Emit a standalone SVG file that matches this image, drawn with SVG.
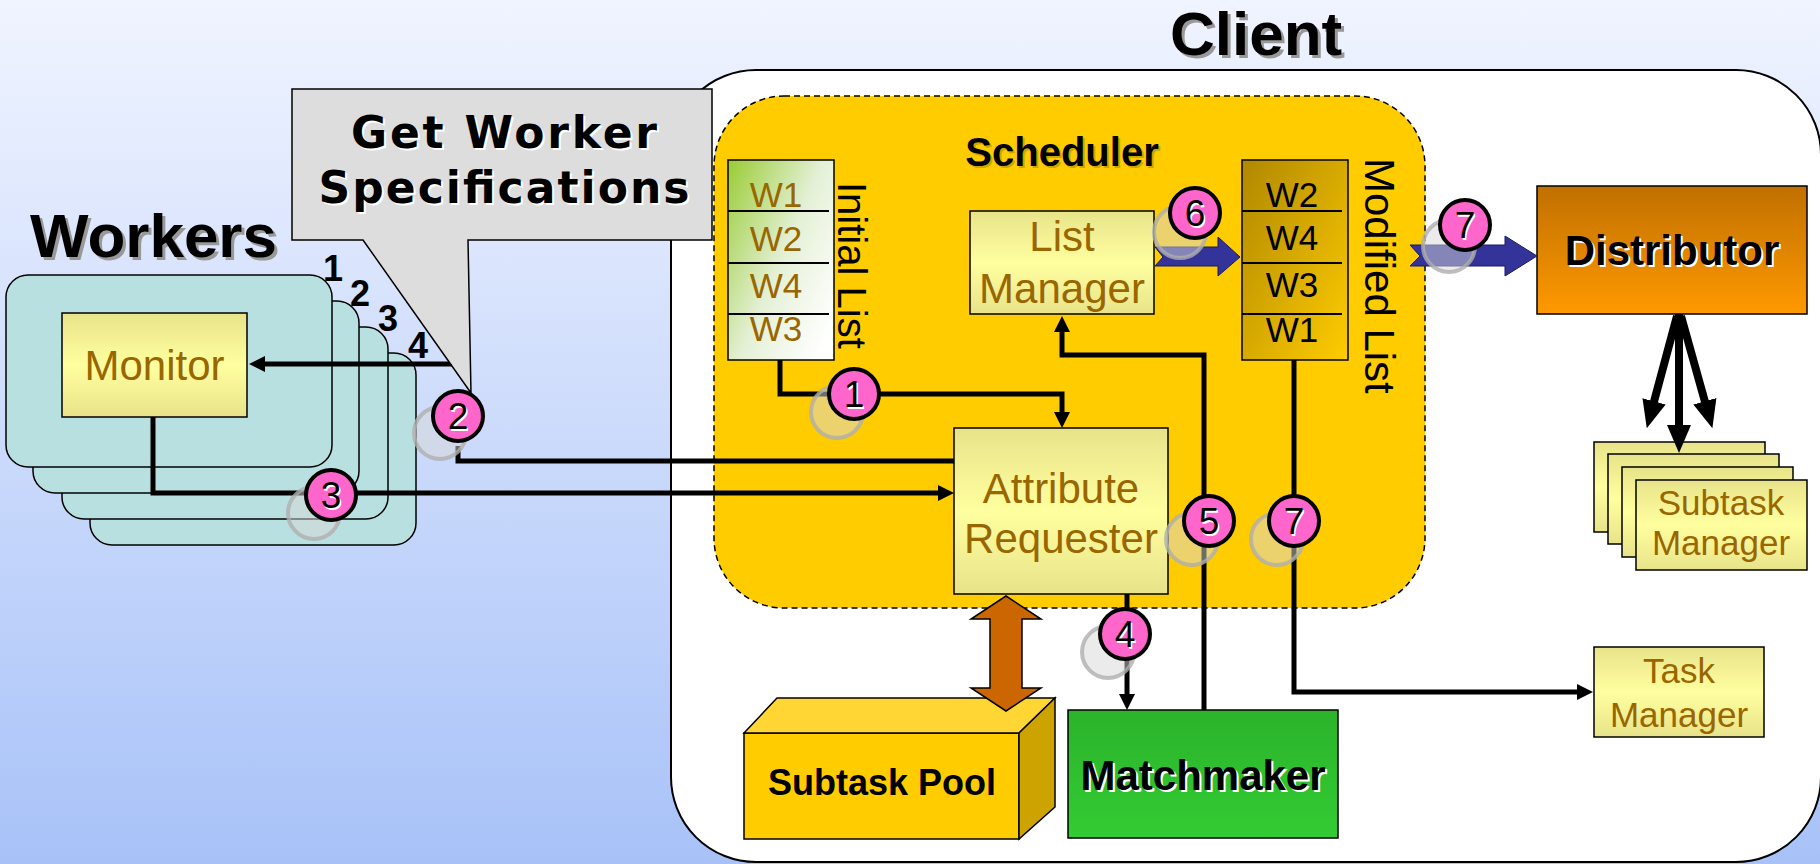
<svg xmlns="http://www.w3.org/2000/svg" width="1820" height="864" viewBox="0 0 1820 864">
<defs>
  <linearGradient id="bg" x1="0" y1="0" x2="0" y2="1">
    <stop offset="0" stop-color="#f0f4ff"/>
    <stop offset="1" stop-color="#a8c2f8"/>
  </linearGradient>
  <linearGradient id="yel" x1="0" y1="0" x2="0" y2="1">
    <stop offset="0" stop-color="#e8e38a"/>
    <stop offset="0.5" stop-color="#ffff9f"/>
    <stop offset="1" stop-color="#e8e38a"/>
  </linearGradient>
  <linearGradient id="ini" x1="0" y1="0" x2="1" y2="0.8">
    <stop offset="0" stop-color="#99cc33"/>
    <stop offset="0.55" stop-color="#e4f0d6"/>
    <stop offset="1" stop-color="#ffffff"/>
  </linearGradient>
  <linearGradient id="mod" x1="0" y1="0" x2="1" y2="1">
    <stop offset="0" stop-color="#b08800"/>
    <stop offset="1" stop-color="#ffcc00"/>
  </linearGradient>
  <linearGradient id="dist" x1="0" y1="0" x2="0" y2="1">
    <stop offset="0" stop-color="#c07000"/>
    <stop offset="1" stop-color="#ff9900"/>
  </linearGradient>
  <linearGradient id="mm" x1="0" y1="0" x2="0" y2="1">
    <stop offset="0" stop-color="#2bb32b"/>
    <stop offset="1" stop-color="#33cc33"/>
  </linearGradient>
  <marker id="ah" viewBox="0 0 16 16" refX="6" refY="8" markerWidth="16" markerHeight="16" markerUnits="userSpaceOnUse" orient="auto">
    <path d="M0,0 L16,8 L0,16 z" fill="#000"/>
  </marker>
  <marker id="ahb" viewBox="0 0 28 24" refX="8" refY="12" markerWidth="28" markerHeight="24" markerUnits="userSpaceOnUse" orient="auto">
    <path d="M0,0 L28,12 L0,24 z" fill="#000"/>
  </marker>
  <style>
    .ln{fill:none;stroke:#000;stroke-width:5}
    .bx{stroke:#000;stroke-width:1.5}
    .wk{fill:#b9e0e0;stroke:#000;stroke-width:1.5}
    .br{font-family:"Liberation Sans",Arial,sans-serif;fill:#996600;text-anchor:middle}
    .bk{font-family:"Liberation Sans",Arial,sans-serif;fill:#000;text-anchor:middle}
    .bold{font-family:"Liberation Sans",Arial,sans-serif;font-weight:bold;text-anchor:middle}
    .ghost{fill:rgba(215,215,215,0.5);stroke:rgba(175,175,175,0.8);stroke-width:4}
    .bd{fill:#ff66cc;stroke:#000;stroke-width:4}
    .dg{font-family:"Liberation Sans",Arial,sans-serif;font-size:37px;text-anchor:middle}
    .co{font-family:"DejaVu Sans",Verdana,sans-serif;font-weight:bold;font-size:44px;text-anchor:middle}
  </style>
</defs>

<rect x="0" y="0" width="1820" height="864" fill="url(#bg)"/>

<!-- Titles -->
<g id="title-workers">
  <text x="33" y="260" font-family="Liberation Sans, Arial, sans-serif" font-weight="bold" font-size="62" fill="#999">Workers</text>
  <text x="30" y="257" font-family="Liberation Sans, Arial, sans-serif" font-weight="bold" font-size="62" fill="#000">Workers</text>
</g>
<g id="title-client">
  <text x="1173" y="58" font-family="Liberation Sans, Arial, sans-serif" font-weight="bold" font-size="62" fill="#999">Client</text>
  <text x="1170" y="55" font-family="Liberation Sans, Arial, sans-serif" font-weight="bold" font-size="62" fill="#000">Client</text>
</g>

<!-- Workers stack -->
<g id="workers">
  <rect class="wk" x="90" y="353" width="326" height="192" rx="22"/>
  <rect class="wk" x="62" y="327" width="326" height="192" rx="22"/>
  <rect class="wk" x="33" y="301" width="326" height="192" rx="22"/>
  <rect class="wk" x="6" y="275" width="326" height="192" rx="22"/>
  <g font-family="Liberation Sans, Arial, sans-serif" font-weight="bold" font-size="36" fill="#000">
    <text x="323" y="281">1</text>
    <text x="350" y="306">2</text>
    <text x="378" y="331">3</text>
    <text x="408" y="358">4</text>
  </g>
</g>
<g id="monitor">
  <rect class="bx" x="62" y="313" width="185" height="104" fill="url(#yel)"/>
  <text class="br" x="154.5" y="380" font-size="42">Monitor</text>
</g>

<!-- Client -->
<g id="client">
  <rect x="671" y="70" width="1150" height="792" rx="85" fill="#fff" stroke="#000" stroke-width="2"/>
</g>

<g id="scheduler">
  <rect x="714" y="96" width="711" height="512" rx="70" fill="#ffcc00" stroke="#000" stroke-width="1.5" stroke-dasharray="6 4"/>
  <text class="bold" x="1064" y="168" font-size="40" fill="#a08000" opacity="0.5">Scheduler</text>
  <text class="bold" x="1062" y="166" font-size="40" fill="#000">Scheduler</text>
</g>

<g id="initial-list">
  <rect class="bx" x="728" y="160" width="106" height="200" fill="url(#ini)"/>
  <path d="M728,211 H829 M728,263 H829 M728,314 H829" stroke="#000" stroke-width="2"/>
  <text class="br" x="776" y="207" font-size="35">W1</text>
  <text class="br" x="776" y="251" font-size="35">W2</text>
  <text class="br" x="776" y="298" font-size="35">W4</text>
  <text class="br" x="776" y="341" font-size="35">W3</text>
  <text transform="translate(838,182) rotate(90)" font-family="Liberation Sans, Arial, sans-serif" font-size="40" fill="#000">Initial List</text>
</g>

<g id="modified-list">
  <rect class="bx" x="1242" y="160" width="106" height="200" fill="url(#mod)"/>
  <path d="M1242,211 H1342 M1242,263 H1342 M1242,314 H1342" stroke="#000" stroke-width="2"/>
  <text class="bk" x="1292" y="207" font-size="35">W2</text>
  <text class="bk" x="1292" y="250" font-size="35">W4</text>
  <text class="bk" x="1292" y="297" font-size="35">W3</text>
  <text class="bk" x="1292" y="342" font-size="35">W1</text>
  <text transform="translate(1365,158) rotate(90)" font-family="Liberation Sans, Arial, sans-serif" font-size="42" fill="#000">Modified List</text>
</g>

<g id="list-manager">
  <rect class="bx" x="970" y="211" width="184" height="103" fill="url(#yel)"/>
  <text class="br" x="1062" y="251" font-size="42">List</text>
  <text class="br" x="1062" y="303" font-size="42">Manager</text>
</g>

<g id="attribute-requester">
  <rect class="bx" x="954" y="428" width="214" height="166" fill="url(#yel)"/>
  <text class="br" x="1061" y="503" font-size="42">Attribute</text>
  <text class="br" x="1061" y="553" font-size="42">Requester</text>
</g>

<g id="distributor">
  <rect class="bx" x="1537" y="186" width="270" height="128" fill="url(#dist)"/>
  <text class="bold" x="1674" y="267" font-size="42" fill="#fff">Distributor</text>
  <text class="bold" x="1672" y="265" font-size="42" fill="#000">Distributor</text>
</g>

<g id="subtask-managers">
  <rect class="bx" x="1594" y="442" width="171" height="90" fill="url(#yel)"/>
  <rect class="bx" x="1608" y="454" width="171" height="90" fill="url(#yel)"/>
  <rect class="bx" x="1622" y="467" width="171" height="90" fill="url(#yel)"/>
  <rect class="bx" x="1636" y="480" width="171" height="90" fill="url(#yel)"/>
  <text class="br" x="1721" y="515" font-size="35">Subtask</text>
  <text class="br" x="1721" y="555" font-size="35">Manager</text>
</g>

<g id="task-manager">
  <rect class="bx" x="1594" y="647" width="170" height="90" fill="url(#yel)"/>
  <text class="br" x="1679" y="683" font-size="35">Task</text>
  <text class="br" x="1679" y="727" font-size="35">Manager</text>
</g>

<g id="matchmaker">
  <rect class="bx" x="1068" y="710" width="270" height="128" fill="url(#mm)"/>
  <text class="bold" x="1205" y="792" font-size="42" fill="#fff">Matchmaker</text>
  <text class="bold" x="1203" y="790" font-size="42" fill="#000">Matchmaker</text>
</g>

<g id="subtask-pool">
  <rect class="bx" x="744" y="733" width="275" height="106" fill="#ffcc00"/>
  <polygon class="bx" points="744,733 777,698 1055,698 1019,733" fill="#ffd633"/>
  <polygon class="bx" points="1019,733 1055,698 1055,807 1019,839" fill="#cca300"/>
  <text class="bold" x="882" y="795" font-size="36" fill="#000">Subtask Pool</text>
</g>

<!-- Connectors -->
<g id="connectors">
  <path class="ln" d="M465,364 H259" marker-end="url(#ah)"/>
  <path class="ln" d="M458,446 V461 H954"/>
  <path class="ln" d="M153,417 V493 H944" marker-end="url(#ah)"/>
  <path class="ln" d="M780,360 V394 H1062 V418" marker-end="url(#ah)"/>
  <path class="ln" d="M1204,710 V355 H1062 V326" marker-end="url(#ah)"/>
  <path class="ln" d="M1294,360 V692 H1583" marker-end="url(#ah)"/>
  <path class="ln" d="M1127,594 V700" marker-end="url(#ah)"/>
  <path fill="none" stroke="#000" stroke-width="8" d="M1679,314 V433" marker-end="url(#ahb)"/>
  <path fill="none" stroke="#000" stroke-width="8" d="M1677,316 L1652,409" marker-end="url(#ahb)"/>
  <path fill="none" stroke="#000" stroke-width="8" d="M1681,316 L1707,409" marker-end="url(#ahb)"/>
  <polygon points="1155,247 1218,247 1218,237 1240,257 1218,276 1218,266 1155,266 1163,257" fill="#333399" stroke="#1a1a66" stroke-width="1"/>
  <polygon points="1410,245 1505,245 1505,236 1537,256 1505,276 1505,266 1410,266 1420,256" fill="#333399" stroke="#1a1a66" stroke-width="1"/>
  <polygon points="1006,596 1041,619 1022,619 1022,688 1041,688 1006,711 971,688 990,688 990,619 971,619" fill="#cc6600" stroke="#000" stroke-width="1.5"/>
</g>

<!-- Callout -->
<g id="callout">
  <polygon points="292,89 712,89 712,240 468,240 471,393 363,240 292,240" fill="#dddddd" stroke="#000" stroke-width="1.5"/>
  <text class="co" x="506" y="150" fill="#fff" textLength="306" lengthAdjust="spacing">Get Worker</text>
  <text class="co" x="504" y="148" fill="#000" textLength="306" lengthAdjust="spacing">Get Worker</text>
  <text class="co" x="506" y="205" fill="#fff" textLength="371" lengthAdjust="spacing">Specifications</text>
  <text class="co" x="504" y="203" fill="#000" textLength="371" lengthAdjust="spacing">Specifications</text>
</g>

<!-- Badges -->
<g id="badge-1">
  <circle class="ghost" cx="837" cy="412" r="26"/>
  <circle class="bd" cx="854" cy="394" r="25"/>
  <text class="dg" x="855.5" y="408.5" fill="#fff">1</text>
  <text class="dg" x="854" y="407" fill="#000">1</text>
</g>
<g id="badge-2">
  <circle class="ghost" cx="440" cy="433" r="26"/>
  <circle class="bd" cx="458" cy="416" r="25"/>
  <text class="dg" x="459.5" y="430.5" fill="#fff">2</text>
  <text class="dg" x="458" y="429" fill="#000">2</text>
</g>
<g id="badge-3">
  <circle class="ghost" cx="314" cy="513" r="26"/>
  <circle class="bd" cx="331" cy="495" r="25"/>
  <text class="dg" x="332.5" y="509.5" fill="#fff">3</text>
  <text class="dg" x="331" y="508" fill="#000">3</text>
</g>
<g id="badge-4">
  <circle class="ghost" cx="1108" cy="652" r="26"/>
  <circle class="bd" cx="1125" cy="634" r="25"/>
  <text class="dg" x="1126.5" y="648.5" fill="#fff">4</text>
  <text class="dg" x="1125" y="647" fill="#000">4</text>
</g>
<g id="badge-5">
  <circle class="ghost" cx="1192" cy="539" r="26"/>
  <circle class="bd" cx="1209" cy="521" r="25"/>
  <text class="dg" x="1210.5" y="535.5" fill="#fff">5</text>
  <text class="dg" x="1209" y="534" fill="#000">5</text>
</g>
<g id="badge-6">
  <circle class="ghost" cx="1180" cy="232" r="26"/>
  <circle class="bd" cx="1195" cy="213" r="25"/>
  <text class="dg" x="1196.5" y="227.5" fill="#fff">6</text>
  <text class="dg" x="1195" y="226" fill="#000">6</text>
</g>
<g id="badge-7a">
  <circle class="ghost" cx="1449" cy="246" r="26"/>
  <circle class="bd" cx="1465" cy="225" r="25"/>
  <text class="dg" x="1466.5" y="239.5" fill="#fff">7</text>
  <text class="dg" x="1465" y="238" fill="#000">7</text>
</g>
<g id="badge-7b">
  <circle class="ghost" cx="1277" cy="539" r="26"/>
  <circle class="bd" cx="1294" cy="521" r="25"/>
  <text class="dg" x="1295.5" y="535.5" fill="#fff">7</text>
  <text class="dg" x="1294" y="534" fill="#000">7</text>
</g>
</svg>
